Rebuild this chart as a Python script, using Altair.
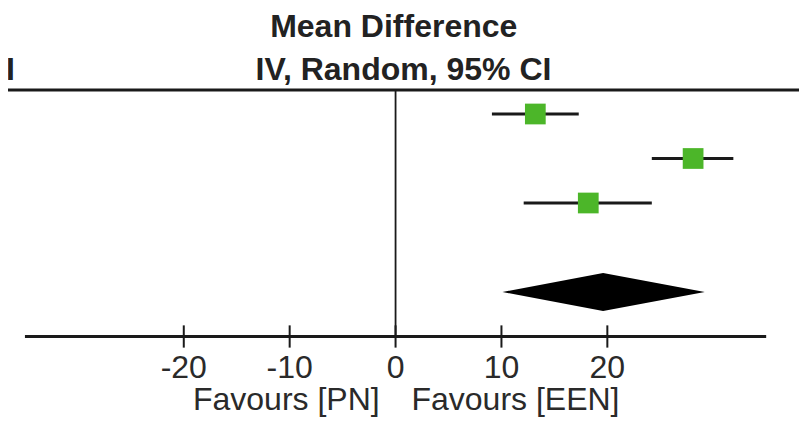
import altair as alt
import pandas as pd

# ---- data ----
studies = ["Study 1", "Study 2", "Study 3"]
study_rows = [1, 2, 3]
md_est = [13.2, 28.1, 18.2]
md_lo = [9.1, 24.2, 12.1]
md_hi = [17.3, 31.9, 24.2]

total_row = 5
total_est = 19.6
total_lo = 10.1
total_hi = 29.2

tick_values = [-20, -10, 0, 10, 20]
axis_min, axis_max = -35, 35
favours_left = "Favours [PN]"
favours_right = "Favours [EEN]"
header_1 = "Mean Difference"
header_2 = "IV, Random, 95% CI"

# ---- layout constants ----
W, H = 791, 415
XDOM = [-36.6, 38.1]
YDOM = [-1.382, 7.944]
FONT = "Liberation Sans"
INK = "#1a1a1a"
GREEN = "#4CB629"
AXIS_ROW = 6.0
HEADER_LINE_ROW = 0.461
DIAMOND_HALF = 0.427

xs = alt.Scale(domain=XDOM, nice=False, zero=False)
ys = alt.Scale(domain=YDOM, nice=False, zero=False, reverse=True)

studies_df = pd.DataFrame({"study": studies, "row": study_rows, "est": md_est,
                           "lo": md_lo, "hi": md_hi})
diamond_df = pd.DataFrame({
    "x": [total_lo, total_est, total_hi],
    "y": [total_row, total_row - DIAMOND_HALF, total_row],
    "y2": [total_row, total_row + DIAMOND_HALF, total_row],
})
ticks_df = pd.DataFrame({"v": tick_values, "lab": [str(t) for t in tick_values]})

base_x = dict(scale=xs, axis=None)
base_y = dict(scale=ys, axis=None)

header_line = alt.Chart(pd.DataFrame({"a": [XDOM[0]], "b": [XDOM[1]], "r": [HEADER_LINE_ROW]})).mark_rule(
    color=INK, strokeWidth=3).encode(
    x=alt.X("a:Q", **base_x), x2="b:Q", y=alt.Y("r:Q", **base_y))

zero_line = alt.Chart(pd.DataFrame({"z": [0], "r1": [HEADER_LINE_ROW], "r2": [AXIS_ROW]})).mark_rule(
    color=INK, strokeWidth=1.8).encode(
    x=alt.X("z:Q", **base_x), y=alt.Y("r1:Q", **base_y), y2="r2:Q")

axis_line = alt.Chart(pd.DataFrame({"a": [axis_min], "b": [axis_max], "r": [AXIS_ROW]})).mark_rule(
    color=INK, strokeWidth=3).encode(
    x=alt.X("a:Q", **base_x), x2="b:Q", y=alt.Y("r:Q", **base_y))

ticks = alt.Chart(ticks_df).transform_calculate(
    r1=f"{AXIS_ROW} - 0.25", r2=f"{AXIS_ROW} + 0.25").mark_rule(
    color=INK, strokeWidth=2).encode(
    x=alt.X("v:Q", **base_x), y=alt.Y("r1:Q", **base_y), y2="r2:Q")

tick_labels = alt.Chart(ticks_df).transform_calculate(r=f"{AXIS_ROW} + 0.93").mark_text(
    font=FONT, fontSize=32, color="#2a2a2a", baseline="alphabetic", align="center").encode(
    x=alt.X("v:Q", **base_x), y=alt.Y("r:Q", **base_y), text="lab:N")

fav_df = pd.DataFrame({"x": [-1.5, 1.5], "t": [favours_left, favours_right]})
fav_left = alt.Chart(fav_df.iloc[[0]]).transform_calculate(r=f"{AXIS_ROW} + 1.65").mark_text(
    font=FONT, fontSize=32, color="#2a2a2a", baseline="alphabetic", align="right").encode(
    x=alt.X("x:Q", **base_x), y=alt.Y("r:Q", **base_y), text="t:N")
fav_right = alt.Chart(fav_df.iloc[[1]]).transform_calculate(r=f"{AXIS_ROW} + 1.65").mark_text(
    font=FONT, fontSize=32, color="#2a2a2a", baseline="alphabetic", align="left").encode(
    x=alt.X("x:Q", **base_x), y=alt.Y("r:Q", **base_y), text="t:N")

ci = alt.Chart(studies_df).mark_rule(color=INK, strokeWidth=2.8).encode(
    x=alt.X("lo:Q", **base_x), x2="hi:Q", y=alt.Y("row:Q", **base_y))

squares = alt.Chart(studies_df).mark_square(color=GREEN, opacity=1, size=430).encode(
    x=alt.X("est:Q", **base_x), y=alt.Y("row:Q", **base_y))

diamond = alt.Chart(diamond_df).mark_area(color="#000000", opacity=1, orient="vertical").encode(
    x=alt.X("x:Q", **base_x), y=alt.Y("y:Q", **base_y), y2="y2:Q")

titles_df = pd.DataFrame({"x": [-0.17, 0.75], "r": [-0.73, 0.236], "t": [header_1, header_2]})
titles = alt.Chart(titles_df).mark_text(
    font=FONT, fontSize=32, fontWeight="bold", color="#222222", baseline="alphabetic",
    align="center").encode(
    x=alt.X("x:Q", **base_x), y=alt.Y("r:Q", **base_y), text="t:N")

side_df = pd.DataFrame({"x": [XDOM[0]], "r": [0.236], "t": ["I"]})
side = alt.Chart(side_df).mark_text(
    font=FONT, fontSize=32, fontWeight="bold", color="#222222", baseline="alphabetic",
    align="left", dx=-2).encode(
    x=alt.X("x:Q", **base_x), y=alt.Y("r:Q", **base_y), text="t:N")

chart = alt.layer(
    header_line, zero_line, axis_line, ticks, tick_labels, fav_left, fav_right,
    ci, squares, diamond, titles, side
).properties(
    width=W, height=H, padding=0, autosize=alt.AutoSizeParams(type="none"),
    background="white"
).configure_view(stroke=None)

chart.save("out.html", embed_options={"renderer": "svg", "actions": False})
